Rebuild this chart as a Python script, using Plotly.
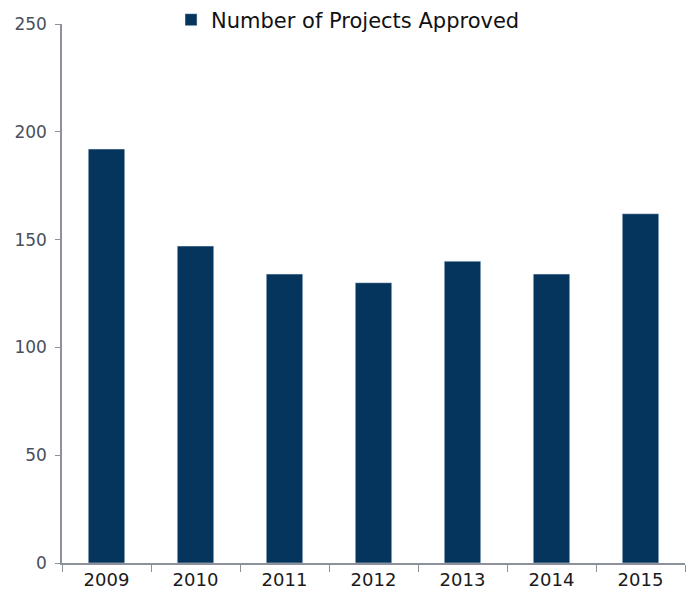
import plotly.graph_objects as go

years = ["2009", "2010", "2011", "2012", "2013", "2014", "2015"]
projects = [192, 147, 134, 130, 140, 134, 162]
y_ticks = [0, 50, 100, 150, 200, 250]
series_name = "Number of Projects Approved"

bar_color = "#05345c"
axis_color = "#8c919b"

fig = go.Figure()
fig.add_trace(go.Bar(x=years, y=projects, name=series_name, marker_color=bar_color,
                     showlegend=True))

fig.update_layout(
    width=688, height=593,
    margin=dict(l=62, r=3, t=24, b=30, autoexpand=False),
    plot_bgcolor="white", paper_bgcolor="white",
    bargap=0.59,
    font=dict(family="DejaVu Sans", size=17, color="#222222"),
    showlegend=True,
    legend=dict(x=0.175, xanchor="left", y=1.0074, yanchor="middle",
                font=dict(size=21, color="#111111"), bgcolor="rgba(0,0,0,0)",
                itemwidth=30),
)
fig.update_xaxes(
    type="category", showline=True, linecolor=axis_color, linewidth=1.5,
    ticks="outside", tickson="boundaries", ticklen=7, tickcolor=axis_color,
    showgrid=False, tickfont=dict(size=18, color="#1a1a1a"), automargin=False,
)
fig.update_yaxes(
    range=[0, 250], tickvals=y_ticks, showline=True, linecolor=axis_color, linewidth=1.5,
    ticks="outside", ticklen=5, tickcolor=axis_color, showgrid=False, zeroline=False,
    tickfont=dict(size=17, color="#4a4f5c"), ticklabelstandoff=5, automargin=False,
)

fig.write_html("out.html", config={"displayModeBar": False},
               post_script="document.body.style.margin='0';document.body.style.padding='0';")
